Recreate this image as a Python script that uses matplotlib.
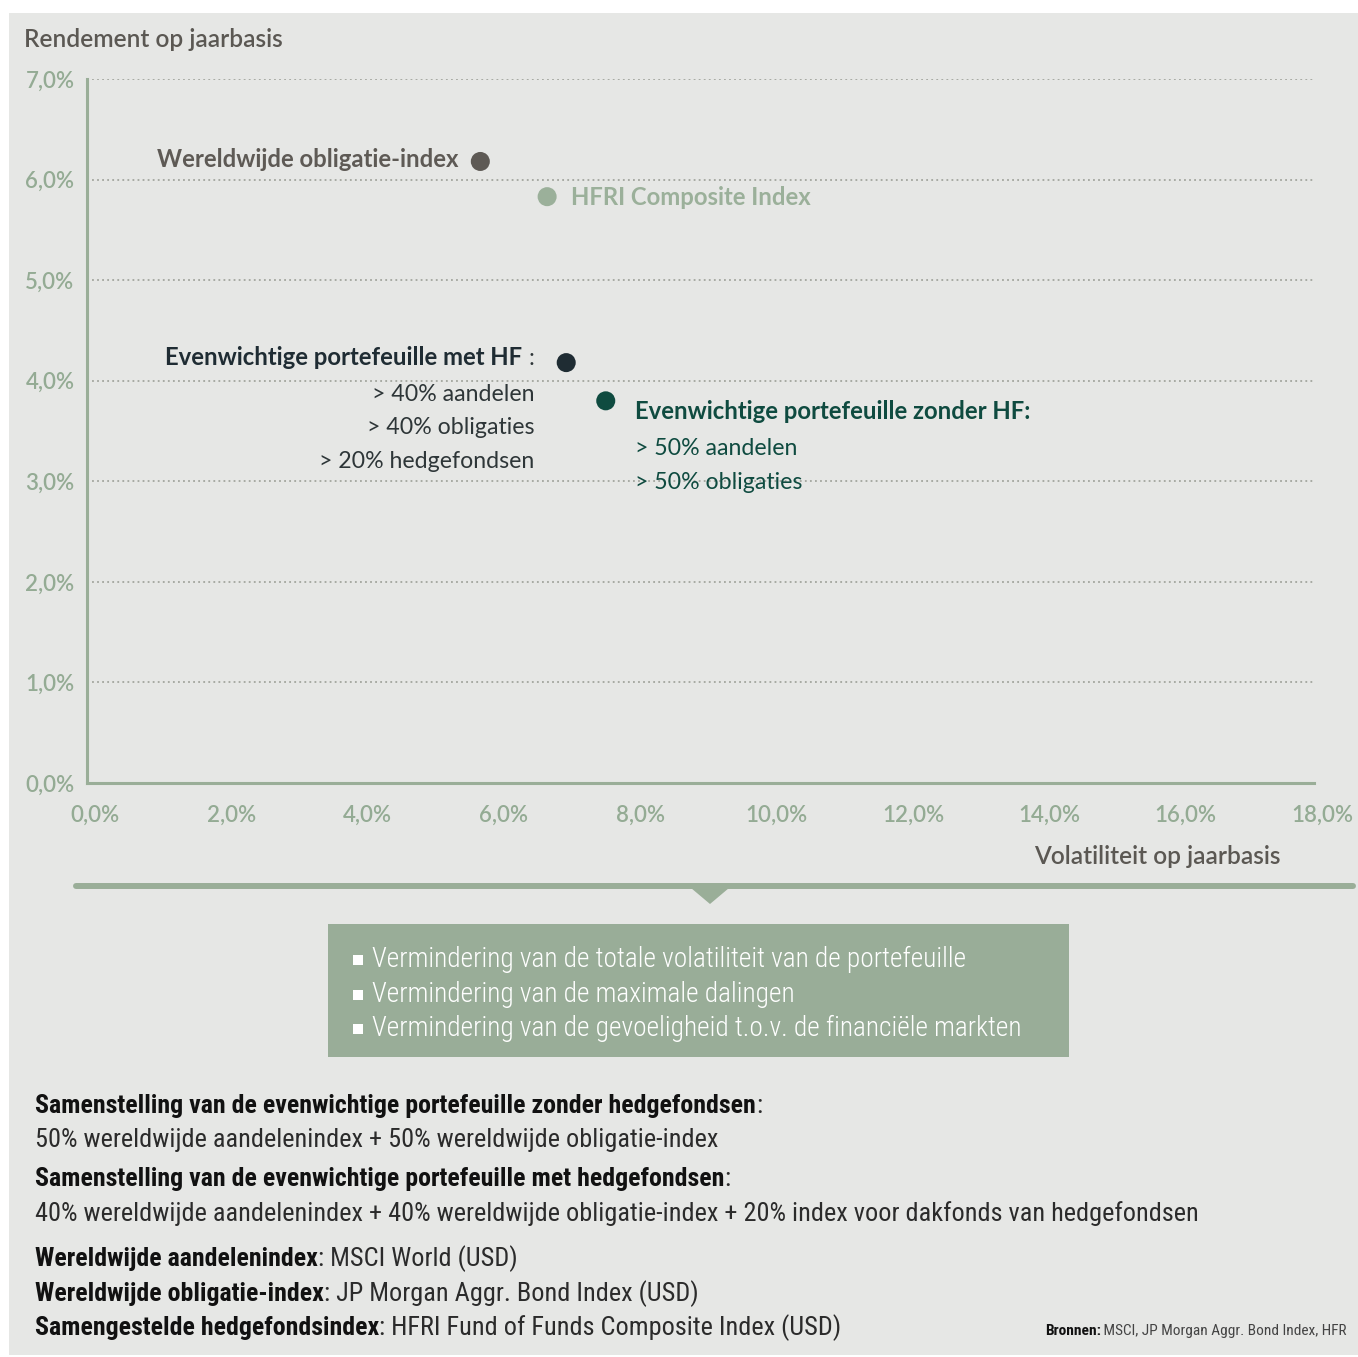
import matplotlib
matplotlib.use('Agg')
import matplotlib.pyplot as plt
from matplotlib import font_manager as fm
from matplotlib.font_manager import FontProperties
from matplotlib.patches import Rectangle, Polygon
from matplotlib.lines import Line2D
import matplotlib.transforms as mtransforms

# ---------------- data ----------------
x_ticks = [0, 2, 4, 6, 8, 10, 12, 14, 16, 18]
x_tick_labels = ['0,0%', '2,0%', '4,0%', '6,0%', '8,0%', '10,0%', '12,0%', '14,0%', '16,0%', '18,0%']
y_ticks = [0, 1, 2, 3, 4, 5, 6, 7]
y_tick_labels = ['0,0%', '1,0%', '2,0%', '3,0%', '4,0%', '5,0%', '6,0%', '7,0%']

series_names = ['Wereldwijde obligatie-index', 'HFRI Composite Index',
                'Evenwichtige portefeuille met HF', 'Evenwichtige portefeuille zonder HF']
volatility = [5.77, 6.75, 7.03, 7.61]
returns = [6.18, 5.83, 4.18, 3.80]
point_colors = ['#5e5a55', '#9bb09a', '#1f2c33', '#0f4b40']

met_hf_lines = ['> 40% aandelen', '> 40% obligaties', '> 20% hedgefondsen']
zonder_hf_lines = ['> 50% aandelen', '> 50% obligaties']

y_title = 'Rendement op jaarbasis'
x_title = 'Volatiliteit op jaarbasis'

box_lines = ['Vermindering van de totale volatiliteit van de portefeuille',
             'Vermindering van de maximale dalingen',
             'Vermindering van de gevoeligheid t.o.v. de financiële markten']

note_bold = ['Samenstelling van de evenwichtige portefeuille zonder hedgefondsen', None,
             'Samenstelling van de evenwichtige portefeuille met hedgefondsen', None,
             'Wereldwijde aandelenindex', 'Wereldwijde obligatie-index', 'Samengestelde hedgefondsindex']
note_normal = [':', '50% wereldwijde aandelenindex + 50% wereldwijde obligatie-index',
               ':', '40% wereldwijde aandelenindex + 40% wereldwijde obligatie-index + 20% index voor dakfonds van hedgefondsen',
               ': MSCI World (USD)', ': JP Morgan Aggr. Bond Index (USD)',
               ': HFRI Fund of Funds Composite Index (USD)']
source_bold = 'Bronnen:'
source_text = ' MSCI, JP Morgan Aggr. Bond Index, HFR'

# ---------------- setup ----------------
W, H, DPI = 1358, 1357, 100
names = {f.name for f in fm.fontManager.ttflist}

def pick(*c):
    for n in c:
        if n in names:
            return n
    return 'DejaVu Sans'

MAIN = pick('Lato', 'Open Sans', 'Noto Sans')
NARROW = pick('Liberation Sans Narrow', 'Roboto Condensed', 'Open Sans Condensed')
NSTRETCH = 'condensed' if NARROW == 'DejaVu Sans' else 'normal'

fig = plt.figure(figsize=(W / DPI, H / DPI), dpi=DPI)
fig.patch.set_facecolor('white')
renderer = fig.canvas.get_renderer()

def fp(family, weight, size, stretch='normal'):
    return FontProperties(family=family, weight=weight, size=size, stretch=stretch)

def fit(s, family, weight, target, stretch='normal'):
    w, h, d = renderer.get_text_width_height_descent(s, fp(family, weight, 20, stretch), ismath=False)
    return 20.0 * target / w

def fx(x):
    return x / W

def fy(y):
    return 1 - y / H

# panel background
fig.patches.append(Rectangle((fx(9), fy(1355)), (W - 9) / W, (1355 - 13) / H,
                             transform=fig.transFigure, facecolor='#e6e7e5', edgecolor='none', zorder=-10))

GREEN = '#9aae98'
TICKGREEN = '#94ab94'
GREY = '#5b5853'

s_title = fit(y_title, MAIN, 'semibold', 259)
s_tick = fit('10,0%', MAIN, 'semibold', 62)
s_cb = fit('Evenwichtige portefeuille zonder HF:', MAIN, 'bold', 395)
s_cn = fit('> 20% hedgefondsen', MAIN, 'normal', 215)
s_box = fit(box_lines[0], NARROW, 'light', 594, NSTRETCH)
s_nb = fit(note_bold[0], NARROW, 'bold', 720, NSTRETCH)
s_nn = fit(note_normal[3], NARROW, 'normal', 1160, NSTRETCH)
s_src = fit(source_bold + source_text, NARROW, 'normal', 300, NSTRETCH)

# ---------------- axes ----------------
ax = fig.add_axes([fx(87), fy(783), (1314 - 87) / W, (783 - 79) / H])
ax.set_facecolor('none')
ax.set_xlim(0, 18)
ax.set_ylim(0, 7)
for side in ['top', 'right']:
    ax.spines[side].set_visible(False)
for side in ['left', 'bottom']:
    ax.spines[side].set_color(GREEN)
    ax.spines[side].set_linewidth(2.2)
    ax.spines[side].set_zorder(3)

ax.set_xticks(x_ticks)
ax.set_xticklabels(x_tick_labels, fontproperties=fp(MAIN, 'semibold', s_tick), color=TICKGREEN)
ax.set_yticks(y_ticks)
ax.set_yticklabels(y_tick_labels, fontproperties=fp(MAIN, 'semibold', s_tick), color=TICKGREEN)
ax.tick_params(axis='x', length=0, pad=16)
ax.tick_params(axis='y', length=0, pad=9)
off = mtransforms.ScaledTranslation(8 / DPI, 0, fig.dpi_scale_trans)
for lab in ax.get_xticklabels():
    lab.set_transform(lab.get_transform() + off)
ax.yaxis.grid(True, color='#a2a59d', linestyle=(0, (1, 1.8)), linewidth=1.3)
ax.xaxis.grid(False)
ax.set_axisbelow(True)

ax.scatter(volatility, returns, s=13.7 ** 2, c=point_colors, zorder=5, clip_on=False, linewidths=0)

def lab(i, s, dx, dy, ha, color, weight, size):
    return ax.annotate(s, (volatility[i], returns[i]), xytext=(dx, -dy), textcoords='offset pixels',
                       ha=ha, va='baseline', color=color, fontproperties=fp(MAIN, weight, size))

lab(0, series_names[0], -22, 6, 'right', point_colors[0], 'bold', s_cb)
lab(1, series_names[1], 24, 8, 'left', point_colors[1], 'bold', s_cb)

# met HF
colon = lab(2, ':', -32, 2, 'right', '#2e3638', 'normal', s_cn)
fig.canvas.draw()
cb = colon.get_window_extent(renderer)
lab(2, series_names[2], -32 - cb.width - 6, 2, 'right', point_colors[2], 'bold', s_cb)
for k, s in enumerate(met_hf_lines):
    lab(2, s, -32, [38, 71, 105][k], 'right', '#2e3638', 'normal', s_cn)

# zonder HF
lab(3, series_names[3] + ':', 29, 18, 'left', point_colors[3], 'bold', s_cb)
for k, s in enumerate(zonder_hf_lines):
    lab(3, s, 29, [54, 88][k], 'left', point_colors[3], 'normal', s_cn)

# axis titles
fig.text(fx(24), fy(47), y_title, ha='left', va='baseline', color=GREY,
         fontproperties=fp(MAIN, 'semibold', s_title))
fig.text(fx(1281), fy(864), x_title, ha='right', va='baseline', color=GREY,
         fontproperties=fp(MAIN, 'semibold', s_title))

# separator line with triangle
fig.add_artist(Line2D([fx(76), fx(1353)], [fy(886), fy(886)], transform=fig.transFigure,
                      color=GREEN, linewidth=4.3, solid_capstyle='round'))
fig.patches.append(Polygon([(fx(691), fy(888)), (fx(729), fy(888)), (fx(710), fy(904))],
                           closed=True, transform=fig.transFigure, facecolor=GREEN, edgecolor='none'))

# box
fig.patches.append(Rectangle((fx(328), fy(1057)), (1069 - 328) / W, (1057 - 924) / H,
                             transform=fig.transFigure, facecolor='#99ad98', edgecolor='none'))
for k, s in enumerate(box_lines):
    base = [967, 1002, 1036][k]
    fig.patches.append(Rectangle((fx(353), fy(base - 2)), 10 / W, 10 / H, transform=fig.transFigure,
                                 facecolor='white', edgecolor='none'))
    fig.text(fx(372), fy(base), s, ha='left', va='baseline', color='white',
             fontproperties=fp(NARROW, 'light', s_box, NSTRETCH))

# notes
fig.canvas.draw()
baselines = [1113, 1147, 1186, 1221, 1266, 1301, 1335]
for b, nb, nn in zip(baselines, note_bold, note_normal):
    x = 35
    if nb:
        t = fig.text(fx(x), fy(b), nb, ha='left', va='baseline', color='#111111',
                     fontproperties=fp(NARROW, 'bold', s_nb, NSTRETCH))
        x += t.get_window_extent(renderer).width
    fig.text(fx(x), fy(b), nn, ha='left', va='baseline', color='#2b2b2b',
             fontproperties=fp(NARROW, 'normal', s_nn, NSTRETCH))

t = fig.text(fx(1347), fy(1335), source_text, ha='right', va='baseline', color='#444444',
             fontproperties=fp(NARROW, 'normal', s_src, NSTRETCH))
fig.canvas.draw()
bb = t.get_window_extent(renderer)
fig.text(bb.x0 / W, fy(1335), source_bold, ha='right', va='baseline', color='#111111',
         fontproperties=fp(NARROW, 'bold', s_src, NSTRETCH))

fig.savefig('out.png', dpi=DPI, facecolor='white')
